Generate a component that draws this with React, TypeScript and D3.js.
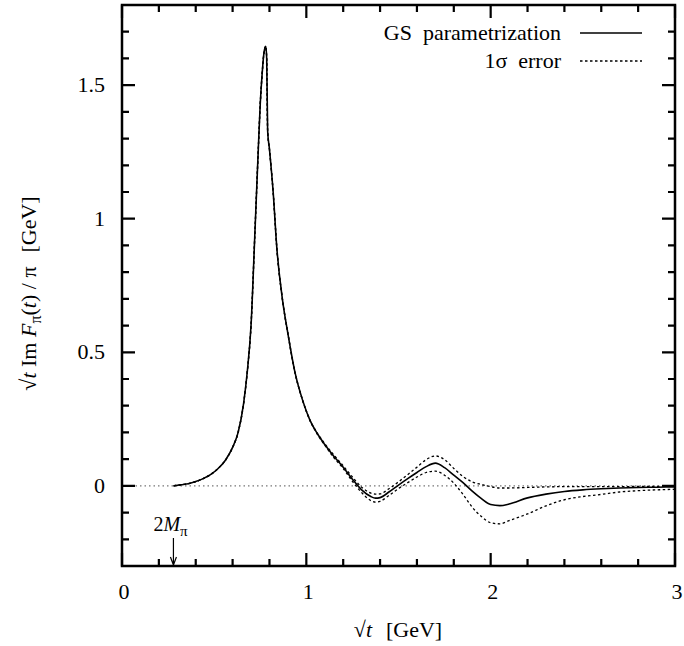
import React from "react";
import * as d3 from "d3";

// sqrt(t) grid [GeV]
const sqrtT = [
  0.28, 0.32, 0.36, 0.40, 0.44, 0.48, 0.52, 0.56, 0.60, 0.63, 0.66, 0.68, 0.70, 0.72, 0.74, 0.75,
  0.76, 0.77, 0.78, 0.785, 0.79, 0.80, 0.82, 0.84, 0.87, 0.90, 0.94, 0.98, 1.02, 1.06, 1.10, 1.15,
  1.20, 1.25, 1.30, 1.35, 1.375, 1.40, 1.45, 1.50, 1.55, 1.60, 1.65, 1.70, 1.75, 1.80, 1.85, 1.90,
  1.95, 2.00, 2.05, 2.10, 2.20, 2.30, 2.40, 2.50, 2.60, 2.70, 2.80, 2.90, 3.00,
];

// GS parametrization (central)
const gsCentral = [
  0, 0.004, 0.008, 0.016, 0.027, 0.042, 0.064, 0.095, 0.144, 0.20, 0.31, 0.43, 0.60, 0.93, 1.27, 1.43,
  1.54, 1.62, 1.645, 1.60, 1.33, 1.26, 1.10, 0.89, 0.70, 0.57, 0.42, 0.32, 0.245, 0.195, 0.155, 0.11,
  0.07, 0.025, -0.015, -0.040, -0.046, -0.044, -0.022, 0.003, 0.027, 0.050, 0.072, 0.085, 0.068, 0.040, 0.012, -0.020,
  -0.048, -0.070, -0.074, -0.068, -0.045, -0.031, -0.021, -0.015, -0.011, -0.008, -0.006, -0.005, -0.004,
];

// 1 sigma error band, upper and lower
const errUpper = [
  0, 0.004, 0.008, 0.016, 0.027, 0.042, 0.064, 0.095, 0.144, 0.20, 0.31, 0.43, 0.60, 0.93, 1.27, 1.43,
  1.54, 1.62, 1.645, 1.60, 1.33, 1.26, 1.10, 0.89, 0.70, 0.57, 0.42, 0.32, 0.246, 0.197, 0.158, 0.115,
  0.075, 0.033, -0.005, -0.027, -0.031, -0.030, -0.010, 0.015, 0.042, 0.070, 0.098, 0.112, 0.098, 0.065, 0.035, 0.015,
  0.005, -0.003, -0.008, -0.008, -0.006, -0.004, -0.003, -0.003, -0.003, -0.003, -0.002, -0.002, -0.002,
];

const errLower = [
  0, 0.004, 0.008, 0.016, 0.027, 0.042, 0.064, 0.095, 0.144, 0.20, 0.31, 0.43, 0.60, 0.93, 1.27, 1.43,
  1.54, 1.62, 1.645, 1.60, 1.33, 1.26, 1.10, 0.89, 0.70, 0.57, 0.42, 0.32, 0.244, 0.193, 0.152, 0.105,
  0.065, 0.017, -0.025, -0.055, -0.061, -0.058, -0.035, -0.010, 0.012, 0.033, 0.050, 0.055, 0.040, 0.010, -0.032, -0.080,
  -0.115, -0.138, -0.142, -0.130, -0.105, -0.075, -0.052, -0.040, -0.032, -0.023, -0.018, -0.015, -0.013,
];

const xTickLabels = [0, 1, 2, 3];
const yTickLabels = [0, 0.5, 1, 1.5];
const twoMpi = 0.279;

const W = 684;
const H = 646;
const frame = { left: 122, right: 675, top: 5, bottom: 566 };
const serif = "Liberation Serif, DejaVu Serif, serif";

export default function App() {
  const x = d3.scaleLinear().domain([0, 3]).range([frame.left, frame.right]);
  const y = d3.scaleLinear().domain([-0.3, 1.8]).range([frame.bottom, frame.top]);

  const line = (vals: number[]) =>
    d3
      .line<number>()
      .x((_, i) => x(sqrtT[i]))
      .y((d) => y(d))
      .curve(d3.curveMonotoneX)(vals) as string;

  // tick marks on all four sides, built as one path
  const major = 13;
  const minor = 7;
  let tickPath = "";
  for (let i = 0; i <= 15; i++) {
    const px = x(i * 0.2);
    const len = i % 5 === 0 ? major : minor;
    tickPath += `M${px},${frame.bottom}V${frame.bottom - len}M${px},${frame.top}V${frame.top + len}`;
  }
  for (let i = 0; i <= 21; i++) {
    const py = y(-0.3 + i * 0.1);
    const len = (i + 2) % 5 === 0 ? major : minor;
    tickPath += `M${frame.left},${py}H${frame.left + len}M${frame.right},${py}H${frame.right - len}`;
  }

  return (
    <svg width={W} height={H} style={{ position: "absolute", left: 0, top: 0, background: "#fff" }}>
      {/* zero line */}
      <path
        d={`M${x(0)},${y(0)}H${x(3)}`}
        stroke="#777"
        strokeWidth={1.2}
        strokeDasharray="1.5,3"
        fill="none"
      />

      {/* error band */}
      <path d={line(errUpper)} fill="none" stroke="#000" strokeWidth={1.3} strokeDasharray="2.5,2.5" />
      <path d={line(errLower)} fill="none" stroke="#000" strokeWidth={1.3} strokeDasharray="2.5,2.5" />
      {/* central curve */}
      <path d={line(gsCentral)} fill="none" stroke="#000" strokeWidth={1.6} />

      {/* ticks */}
      <path d={tickPath} fill="none" stroke="#000" strokeWidth={2.2} />

      {/* frame */}
      <path
        d={`M${frame.left},${frame.top}H${frame.right}V${frame.bottom}H${frame.left}Z`}
        fill="none"
        stroke="#000"
        strokeWidth={2.5}
      />

      {/* tick labels */}
      {xTickLabels.map((v) => (
        <text key={"xl" + v} x={x(v) + 2} y={599} textAnchor="middle" fontSize={22} fontFamily={serif}>
          {v}
        </text>
      ))}
      {yTickLabels.map((v) => (
        <text key={"ylab" + v} x={105} y={y(v) + 7} textAnchor="end" fontSize={22} fontFamily={serif}>
          {v}
        </text>
      ))}

      {/* 2 M_pi marker */}
      <text x={x(twoMpi) - 20} y={531} fontSize={20} fontFamily={serif}>
        2<tspan fontStyle="italic">M</tspan>
        <tspan fontSize={15} dy={5}>
          π
        </tspan>
      </text>
      <path
        d={`M${x(twoMpi)},538V${frame.bottom - 2}M${x(twoMpi) - 3},${frame.bottom - 9}L${x(twoMpi)},${frame.bottom - 1}L${x(twoMpi) + 3},${frame.bottom - 9}`}
        fill="none"
        stroke="#000"
        strokeWidth={1.2}
      />

      {/* axis titles */}
      <text x={398} y={637} fontSize={22} textAnchor="middle" fontFamily={serif}>
        √<tspan fontStyle="italic">t</tspan>
        <tspan dx={14}>[GeV]</tspan>
      </text>
      <text
        transform={`translate(36, ${(frame.top + frame.bottom) / 2 + 8}) rotate(-90)`}
        fontSize={22}
        textAnchor="middle"
        fontFamily={serif}
      >
        √<tspan fontStyle="italic">t</tspan> Im <tspan fontStyle="italic">F</tspan>
        <tspan fontSize={16} dy={5}>π</tspan>
        <tspan dy={-5}>(</tspan>
        <tspan fontStyle="italic">t</tspan>) / π<tspan dx={14}>[GeV]</tspan>
      </text>

      {/* legend */}
      <text x={561} y={40} textAnchor="end" fontSize={22} fontFamily={serif} xmlSpace="preserve">
        GS  parametrization
      </text>
      <path d="M580,33H642" stroke="#000" strokeWidth={1.5} />
      <text x={561} y={68} textAnchor="end" fontSize={22} fontFamily={serif} xmlSpace="preserve">
        1σ  error
      </text>
      <path d="M580,61H642" stroke="#000" strokeWidth={1.3} strokeDasharray="2.5,2.5" />
    </svg>
  );
}
